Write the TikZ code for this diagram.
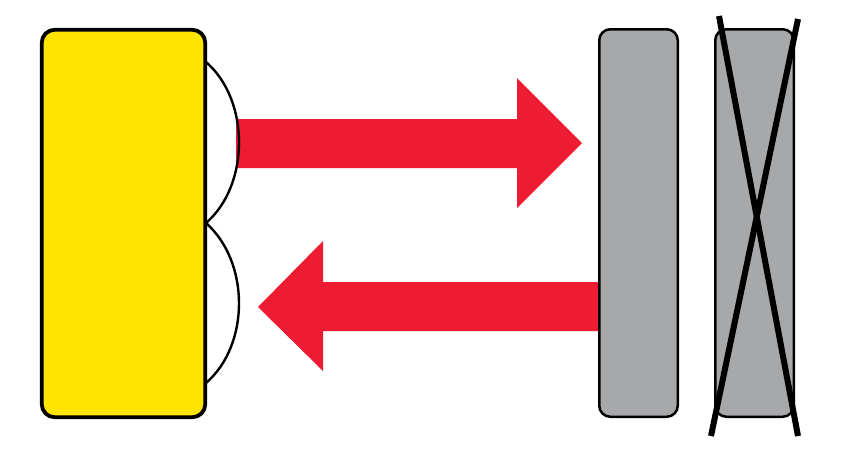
\documentclass[tikz,border=0pt]{standalone}
\definecolor{cyellow}{HTML}{FFE500}
\definecolor{cred}{HTML}{ED1C33}
\definecolor{cgray}{HTML}{A7A8AA}
\begin{document}
\begin{tikzpicture}[x=1pt,y=-1pt,
  device/.style={draw=black, rounded corners=11pt, inner sep=0pt},
  fatarrow/.style={fill=cred, draw=none},
  link/.style={draw=black, line width=2.4pt},
  crossline/.style={draw=black, line width=6pt}]
\useasboundingbox (0,0) rectangle (841,451);
% arrows (drawn behind the boxes)
\fill[fatarrow] (236,119) -- (517,119) -- (517,78) -- (582,143) -- (517,208) -- (517,168) -- (236,168) -- cycle;
\fill[fatarrow] (605,282) -- (323,282) -- (323,241) -- (258,307) -- (323,371) -- (323,331) -- (605,331) -- cycle;
% yellow device
\node[device, fill=cyellow, line width=3.8pt, rounded corners=13pt, minimum width=163.5pt, minimum height=387.5pt] (dev) at (123.5,223.5) {};
% gray boxes
\node[device, fill=cgray, line width=2.5pt, minimum width=78.5pt, minimum height=387.5pt] (g1) at (638.5,223) {};
\node[device, fill=cgray, line width=2.5pt, minimum width=78.5pt, minimum height=387.5pt] (g2) at (754.5,223) {};
% arcs on the yellow device
\coordinate (a1) at (206,62);
\coordinate (a2) at (206,223);
\coordinate (a3) at (206,383);
\draw[link] (a1) .. controls (250,100) and (250,185) .. (a2);
\draw[link] (a2) .. controls (250,262) and (250,345) .. (a3);
% cross over second gray box
\coordinate (c1) at (719,16);
\coordinate (c2) at (798,436);
\coordinate (c3) at (798,19);
\coordinate (c4) at (711,436);
\draw[crossline] (c1) -- (c2);
\draw[crossline] (c3) -- (c4);
\end{tikzpicture}
\end{document}
